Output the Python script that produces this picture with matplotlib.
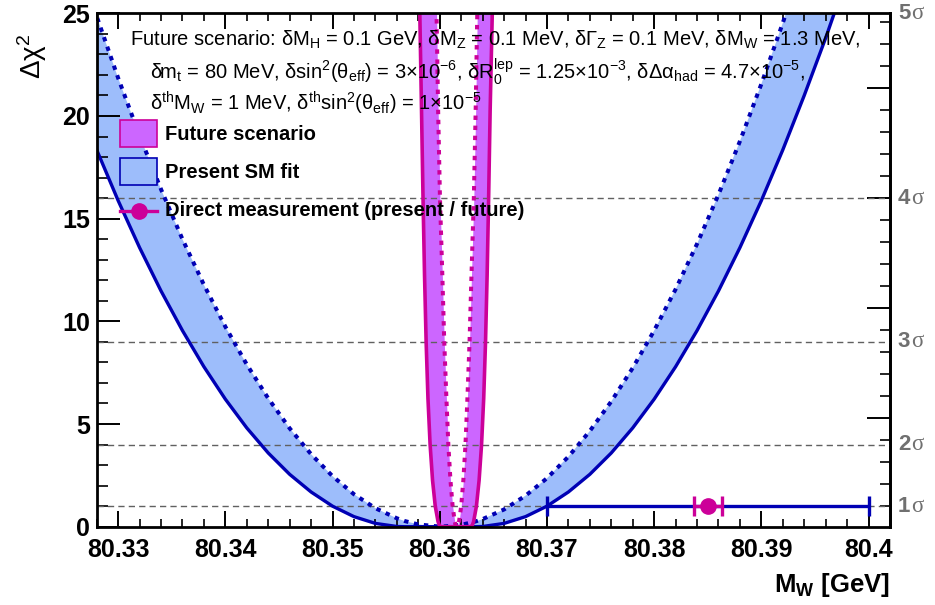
import numpy as np
import matplotlib
matplotlib.use("Agg")
import matplotlib.pyplot as plt
from matplotlib import font_manager
from matplotlib.patches import Rectangle
from matplotlib.lines import Line2D
from matplotlib.ticker import MultipleLocator, FuncFormatter
from matplotlib.transforms import blended_transform_factory, offset_copy


def pick_family(names):
    for n in names:
        try:
            font_manager.findfont(n, fallback_to_default=False)
            return n
        except Exception:
            pass
    return "DejaVu Sans"


SANS = pick_family(["Liberation Sans", "Arial", "DejaVu Sans"])
SERIF = pick_family(["Liberation Serif", "DejaVu Serif"])

plt.rcParams["font.family"] = [SANS, "DejaVu Sans"]
plt.rcParams["mathtext.fontset"] = "custom"
plt.rcParams["mathtext.rm"] = SANS
plt.rcParams["mathtext.it"] = SANS + ":italic"
plt.rcParams["mathtext.bf"] = SANS + ":bold"
plt.rcParams["mathtext.default"] = "regular"

# ---------------------------------------------------------------- data
# Present SM fit: Delta chi^2 scan versus M_W (GeV)
mw_scan = [80.326, 80.328, 80.330, 80.332, 80.334, 80.336, 80.338, 80.340,
           80.342, 80.344, 80.346, 80.348, 80.350, 80.352, 80.354, 80.356,
           80.3567, 80.358, 80.3601, 80.362, 80.3633,
           80.364, 80.366, 80.368, 80.370, 80.372, 80.374, 80.376, 80.378,
           80.380, 80.382, 80.384, 80.386, 80.388, 80.390, 80.392, 80.394,
           80.396, 80.398, 80.400]
# with theory uncertainties (solid)
chi2_present_theo = [21.0, 18.35, 15.88, 13.59, 11.48, 9.55, 7.79, 6.21,
                     4.81, 3.59, 2.55, 1.69, 1.00, 0.49, 0.16, 0.01,
                     0.0, 0.0, 0.0, 0.0, 0.0,
                     0.01, 0.16, 0.49, 1.00, 1.69, 2.55, 3.59, 4.81,
                     6.21, 7.79, 9.55, 11.48, 13.59, 15.88, 18.35, 21.0,
                     23.8, 26.8, 30.0]
# without theory uncertainties (dotted)
chi2_present_exp = [28.0, 24.85, 21.85, 19.04, 16.43, 14.00, 11.78, 9.74,
                    7.90, 6.25, 4.79, 3.53, 2.46, 1.58, 0.90, 0.41,
                    0.28, 0.11, 0.0, 0.09, 0.25,
                    0.37, 0.84, 1.51, 2.36, 3.41, 4.66, 6.10, 7.73,
                    9.55, 11.56, 13.77, 16.17, 18.77, 21.56, 24.53, 27.7,
                    31.0, 34.5, 38.2]

# Future scenario: M_W edges of the scan at given Delta chi^2 levels
fut_dchi2 = [0.0, 0.06, 0.25, 1.0, 2.25, 4.0, 6.25, 9.0, 12.25, 16.0,
             20.25, 25.0, 28.0]
fut_theo_lo = [80.36010, 80.35997, 80.35984, 80.35958, 80.35933, 80.35910,
               80.35890, 80.35873, 80.35858, 80.35844, 80.35830, 80.35814,
               80.35805]
fut_theo_hi = [80.36290, 80.36303, 80.36316, 80.36342, 80.36367, 80.36390,
               80.36410, 80.36427, 80.36442, 80.36456, 80.36470, 80.36490,
               80.36500]
fut_exp_lo = [80.36160, 80.36150, 80.36140, 80.36120, 80.36100, 80.36080,
              80.36062, 80.36042, 80.36024, 80.36002, 80.35985, 80.35970,
              80.35960]
fut_exp_hi = [80.36160, 80.36170, 80.36180, 80.36200, 80.36220, 80.36240,
              80.36258, 80.36278, 80.36296, 80.36318, 80.36335, 80.36350,
              80.36360]

# Direct measurement of M_W (GeV)
mw_direct = 80.385
mw_err_present = 0.015
mw_err_future = 0.0013

sigma_levels = [1, 4, 9, 16, 25]
sigma_labels = ["1", "2", "3", "4", "5"]

# ---------------------------------------------------------------- style
DARK_BLUE = "#0000b4"
BLUE_FILL = "#9dbdfb"
MAGENTA = "#cc0099"
PURPLE_FILL = "#cc66ff"
GRID_GREY = "#606060"
SIGMA_GREY = "#707070"
DOTS = (0, (1.1, 1.4))

W, H = 935, 605
fig = plt.figure(figsize=(W / 100, H / 100), dpi=100)
ax = fig.add_axes([96.7 / W, 1 - 526.7 / H, (890 - 96.7) / W, (526.7 - 13.3) / H])

# present SM fit band
lo = np.minimum(chi2_present_theo, chi2_present_exp)
hi = np.maximum(chi2_present_theo, chi2_present_exp)
ax.fill_between(mw_scan, lo, hi, color=BLUE_FILL, lw=0, zorder=1)

# future scenario band (left and right walls)
ax.fill_betweenx(fut_dchi2, fut_theo_lo, fut_exp_lo, color=PURPLE_FILL, lw=0, zorder=1.5)
ax.fill_betweenx(fut_dchi2, fut_exp_hi, fut_theo_hi, color=PURPLE_FILL, lw=0, zorder=1.5)

# sigma reference levels
for lvl in sigma_levels[:-1]:
    ax.axhline(lvl, color=GRID_GREY, lw=1.0, ls=(0, (4.5, 3)), zorder=2)

# present curves
ax.plot(mw_scan, chi2_present_theo, color=DARK_BLUE, lw=2.4, zorder=3)
ax.plot(mw_scan, chi2_present_exp, color=DARK_BLUE, lw=2.9, zorder=3, ls=DOTS)

# future curves
theo_x = list(reversed(fut_theo_lo)) + fut_theo_hi
exp_x = list(reversed(fut_exp_lo)) + fut_exp_hi
curve_y = list(reversed(fut_dchi2)) + fut_dchi2
ax.plot(theo_x, curve_y, color=MAGENTA, lw=2.6, zorder=3.5)
ax.plot(exp_x, curve_y, color=MAGENTA, lw=2.9, zorder=3.5, ls=DOTS)

# direct measurements
ax.errorbar(mw_direct, 1, xerr=mw_err_present, fmt="none", ecolor=DARK_BLUE,
            elinewidth=2.4, capsize=7.5, capthick=2.4, zorder=5)
ax.errorbar(mw_direct, 1, xerr=mw_err_future, fmt="o", color=MAGENTA,
            ms=11, elinewidth=2.4, capsize=7.5, capthick=2.4, zorder=6)

# axes
ax.set_xlim(80.3280, 80.4020)
ax.set_ylim(0, 25)
ax.xaxis.set_major_locator(MultipleLocator(0.01))
ax.xaxis.set_minor_locator(MultipleLocator(0.002))
ax.yaxis.set_major_locator(MultipleLocator(5))
ax.yaxis.set_minor_locator(MultipleLocator(1))
ax.xaxis.set_major_formatter(FuncFormatter(lambda v, p: "%g" % round(v, 4)))
ax.tick_params(axis="x", which="major", direction="in", top=True, bottom=True,
               length=11.5, width=1.4, pad=8, labelsize=18)
ax.tick_params(axis="x", which="minor", direction="in", top=True, bottom=True,
               length=6, width=1.2)
ax.tick_params(axis="y", which="major", direction="in", left=True, right=False,
               length=16.5, width=1.4, pad=5, labelsize=18)
ax.tick_params(axis="y", which="minor", direction="in", left=True, right=False,
               length=8, width=1.2)
for lab in ax.get_xticklabels() + ax.get_yticklabels():
    lab.set_fontweight("bold")
for sp in ax.spines.values():
    sp.set_linewidth(2.0)
    sp.set_zorder(10)

# independent tick scale on the right-hand frame
sec = ax.secondary_yaxis("right", functions=(lambda y: (y - 16) / 1.07 + 15,
                                              lambda v: (v - 15) * 1.07 + 16))
sec.yaxis.set_major_locator(MultipleLocator(5))
sec.yaxis.set_minor_locator(MultipleLocator(1))
sec.tick_params(which="major", direction="in", length=16.5, width=1.4, labelright=False)
sec.tick_params(which="minor", direction="in", length=7.5, width=1.2)
sec.spines["right"].set_linewidth(2.0)

# sigma labels on the right
tr = blended_transform_factory(ax.transAxes, ax.transData)
tr2 = offset_copy(tr, fig=fig, x=9.3, y=0, units="points")
for lvl, lab in zip(sigma_levels, sigma_labels):
    ax.text(1.010, lvl, lab, transform=tr, ha="left", va="center",
            fontsize=16, fontweight="bold", color=SIGMA_GREY, clip_on=False)
    ax.text(1.010, lvl, "\u03c3", transform=tr2, ha="left", va="center",
            fontsize=16.5, family=[SERIF, "DejaVu Serif"], color=SIGMA_GREY,
            clip_on=False)

# axis titles
fig.text(32 / W, 1 - 56 / H, "\u0394\u03c7$^{2}$", rotation=90, ha="center",
         va="center", fontsize=20)
fig.text(890 / W, 1 - 585 / H, "M$_{W}$ [GeV]", ha="right", va="center",
         fontsize=18.5, fontweight="bold")

# scenario description
desc = [
    (130, 40, "Future scenario: \u03b4M$_{H}$ = 0.1 GeV, \u03b4M$_{Z}$ = 0.1 MeV, "
              "\u03b4\u0393$_{Z}$ = 0.1 MeV, \u03b4M$_{W}$ = 1.3 MeV,"),
    (150, 72, "\u03b4m$_{t}$ = 80 MeV, \u03b4sin$^{2}$(\u03b8$_{eff}$) = 3\u00d710$^{-6}$, "
              "\u03b4R$_{0}^{lep}$ = 1.25\u00d710$^{-3}$, \u03b4\u0394\u03b1$_{had}$ = 4.7\u00d710$^{-5}$,"),
    (150, 103, "\u03b4$^{th}$M$_{W}$ = 1 MeV, \u03b4$^{th}$sin$^{2}$(\u03b8$_{eff}$) = 1\u00d710$^{-5}$"),
]
for x, y, s in desc:
    fig.text(x / W, 1 - y / H, s, ha="left", va="center", fontsize=14.5, zorder=20)

# legend
def box(x0, y0, w, h, fc, ec):
    fig.add_artist(Rectangle((x0 / W, 1 - (y0 + h) / H), w / W, h / H,
                             transform=fig.transFigure, facecolor=fc,
                             edgecolor=ec, lw=1.2, zorder=20))

box(120, 120, 37, 27, PURPLE_FILL, MAGENTA)
box(120, 158, 37, 27, BLUE_FILL, DARK_BLUE)
fig.add_artist(Line2D([120 / W, 157 / W], [1 - 211 / H, 1 - 211 / H],
                      transform=fig.transFigure, color=MAGENTA, lw=2.4, zorder=20))
fig.add_artist(Line2D([138.5 / W], [1 - 211 / H], transform=fig.transFigure,
                      color=MAGENTA, marker="o", ms=11, lw=0, zorder=21))
for y, s in [(134, "Future scenario"), (172, "Present SM fit"),
             (211, "Direct measurement (present / future)")]:
    fig.text(165 / W, 1 - y / H, s, ha="left", va="center", fontsize=14.5,
             fontweight="bold", zorder=20)

fig.savefig("out.png", dpi=100)
